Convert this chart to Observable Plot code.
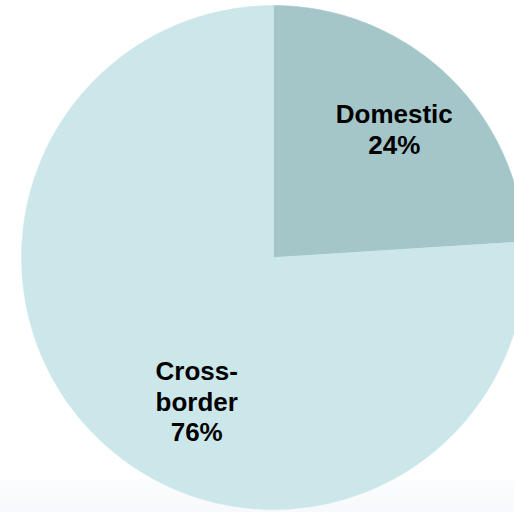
<!DOCTYPE html>
<html>
<head>
<meta charset="utf-8">
<script src="https://cdn.jsdelivr.net/npm/d3@7"></script>
<script src="https://cdn.jsdelivr.net/npm/@observablehq/plot@0.6"></script>
<style>
  html, body { margin: 0; padding: 0; background: #ffffff; }
  #chart { width: 514px; height: 512px; }
  #chart svg { display: block; background: linear-gradient(to bottom, #ffffff 0px, #ffffff 479px, #fafcfd 480px, #f7f9fc 512px); }
</style>
</head>
<body>
<div id="chart"></div>
<script>
const categories = ["Domestic", "Cross-border"];
const shares = [24, 76];
const labelNames = ["Domestic", "Cross-\nborder"];
const colors = ["#a5c6c9", "#cce7ea"];

const W = 514, H = 512;
const cx = 273, cy = 257, R = 252;

// pie geometry in unit-circle space
const pie = d3.pie().sort(null).value(d => d.value)
  (categories.map((c, i) => ({category: c, value: shares[i], label: labelNames[i] + "\n" + shares[i] + "%"})));

const polys = [];
pie.forEach(a => {
  const n = Math.max(4, Math.ceil((a.endAngle - a.startAngle) / (Math.PI * 2) * 400));
  polys.push({category: a.data.category, x: 0, y: 0, k: 0});
  for (let j = 0; j <= n; j++) {
    const t = a.startAngle + (a.endAngle - a.startAngle) * j / n;
    polys.push({category: a.data.category, x: Math.sin(t), y: Math.cos(t), k: j + 1});
  }
  polys.push({category: a.data.category, x: 0, y: 0, k: n + 2});
});

// label placement (best fit style)
const labelPlacement = {"Domestic": {r: 0.70, da: 0}, "Cross-border": {r: 0.645, da: -15}};
const labels = pie.map(a => {
  const p = labelPlacement[a.data.category];
  const t = (a.startAngle + a.endAngle) / 2 + p.da * Math.PI / 180;
  return {category: a.data.category, label: a.data.label, x: p.r * Math.sin(t), y: p.r * Math.cos(t)};
});

const chart = Plot.plot({
  width: W,
  height: H,
  margin: 0,
  x: {domain: [-cx / R, (W - cx) / R], axis: null},
  y: {domain: [-(H - cy) / R, cy / R], axis: null},
  color: {domain: categories, range: colors},
  marks: [
    Plot.line(polys, {x: "x", y: "y", z: "category", fill: "category", stroke: "category", strokeWidth: 0.5, curve: "linear"}),
    Plot.text(labels, {x: "x", y: "y", text: "label", fontSize: 26, fontWeight: "bold", fill: "#000", lineHeight: 1.18, fontFamily: "Arial, 'Liberation Sans', sans-serif"})
  ],
  style: {fontFamily: "Arial, 'Liberation Sans', sans-serif", overflow: "hidden"}
});
document.getElementById("chart").appendChild(chart);
</script>
</body>
</html>
